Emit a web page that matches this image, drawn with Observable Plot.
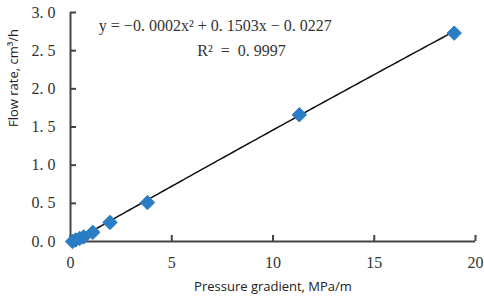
<!DOCTYPE html>
<html>
<head>
<meta charset="utf-8">
<script src="https://cdn.jsdelivr.net/npm/d3@7"></script>
<script src="https://cdn.jsdelivr.net/npm/@observablehq/plot@0.6"></script>
<style>
  html, body { margin: 0; padding: 0; background: #fff; }
</style>
</head>
<body>
<div id="chart"></div>
<script>
const pressureGradient = [0.1, 0.25, 0.45, 0.65, 1.1, 1.95, 3.8, 11.3, 18.95];
const flowRate = [0.0, 0.02, 0.04, 0.06, 0.12, 0.25, 0.51, 1.66, 2.73];
const fitCoef = [-0.0002, 0.1503, -0.0227];
const equationText = "y = −0. 0002x² + 0. 1503x − 0. 0227";
const r2Text = "R²\u00a0\u00a0=\u00a0\u00a00. 9997";
const xTicks = [0, 5, 10, 15, 20];
const yTicks = [0, 0.5, 1.0, 1.5, 2.0, 2.5, 3.0];
const xLabel = "Pressure gradient, MPa/m";
const yLabel = "Flow rate, cm³/h";

const points = pressureGradient.map((x, i) => ({x, y: flowRate[i]}));
const xMin = pressureGradient[0], xMax = pressureGradient[pressureGradient.length - 1];
const fitLine = d3.range(0, 101).map(i => {
  const x = xMin + (xMax - xMin) * i / 100;
  return {x, y: fitCoef[0] * x * x + fitCoef[1] * x + fitCoef[2]};
}).filter(d => d.y >= 0);

const serif = "'Liberation Serif', 'DejaVu Serif', serif";
const sans = "'Open Sans', 'Liberation Sans', sans-serif";

const chart = Plot.plot({
  width: 484,
  height: 297,
  marginLeft: 70,
  marginRight: 9,
  marginTop: 12,
  marginBottom: 56,
  style: {fontFamily: serif, fontSize: "16px", color: "#333", background: "#fff"},
  x: {domain: [0, 20], ticks: xTicks},
  y: {domain: [0, 3], ticks: yTicks},
  marks: [
    Plot.axisX({ticks: xTicks, tickSize: 0, tickPadding: 15, tickFormat: d => String(d), fontSize: 16, fontFamily: serif, fill: "#333", label: null}),
    Plot.axisY({ticks: yTicks, tickSize: 0, tickPadding: 15, tickFormat: d => d.toFixed(1).replace(".", ". "), fontSize: 16, fontFamily: serif, fill: "#333", label: null}),
    Plot.ruleX(xTicks, {x: d => d, y1: 0, y2: 0, insetTop: -6, stroke: "#444", strokeWidth: 2}),
    Plot.ruleY(yTicks, {y: d => d, x1: 0, x2: 0, insetRight: -6, stroke: "#444", strokeWidth: 2}),
    Plot.ruleX([0], {stroke: "#444", strokeWidth: 2}),
    Plot.ruleY([0], {stroke: "#444", strokeWidth: 2}),
    Plot.line(fitLine, {x: "x", y: "y", stroke: "#111", strokeWidth: 1.5}),
    Plot.dot(points, {x: "x", y: "y", symbol: "diamond2", r: 6.5, fill: "#2a7cc4", stroke: "#2a7cc4", strokeWidth: 1}),
    Plot.text([equationText], {x: 7.15, y: 2.83, text: d => d, fontSize: 16, fontFamily: serif, fill: "#333"}),
    Plot.text([r2Text], {x: 8.45, y: 2.5, text: d => d, fontSize: 16, fontFamily: serif, fill: "#333"}),
    Plot.text([xLabel], {frameAnchor: "bottom", dy: 49, lineAnchor: "bottom", text: d => d, fontSize: 13, fontFamily: sans, fill: "#222"}),
    Plot.text([yLabel], {frameAnchor: "left", dx: -57, rotate: -90, text: d => d, fontSize: 13, fontFamily: sans, fill: "#222"})
  ]
});
document.getElementById("chart").appendChild(chart);
</script>
</body>
</html>
